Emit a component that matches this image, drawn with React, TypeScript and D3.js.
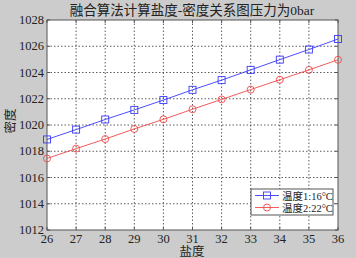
import React from "react";
import * as d3 from "d3";

const salinity = [26, 27, 28, 29, 30, 31, 32, 33, 34, 35, 36];
const density16 = [1018.9, 1019.65, 1020.42, 1021.15, 1021.9, 1022.68, 1023.42, 1024.2, 1024.98, 1025.75, 1026.55];
const density22 = [1017.45, 1018.2, 1018.93, 1019.7, 1020.43, 1021.2, 1021.95, 1022.7, 1023.45, 1024.2, 1024.97];
const yTicks = [1012, 1014, 1016, 1018, 1020, 1022, 1024, 1026, 1028];
const xTicks = [26, 27, 28, 29, 30, 31, 32, 33, 34, 35, 36];
const seriesNames = ["温度1:16°C", "温度2:22°C"];
const title = "融合算法计算盐度-密度关系图压力为0bar";

const W = 356, H = 258;
const L = 47, R = 338, T = 20, B = 230;
const FONT = "'Liberation Serif', 'Noto Sans CJK SC', serif";

export default function App() {
  const x = d3.scaleLinear().domain([26, 36]).range([L, R]);
  const y = d3.scaleLinear().domain([1012, 1028]).range([B, T]);
  const line = d3.line<number>().x((_, i) => x(salinity[i])).y((d) => y(d));
  const blue = "#3a3aff";
  const red = "#f04a4a";
  return (
    <svg width={W} height={H} style={{ position: "absolute", left: 0, top: 0 }} fontFamily={FONT}>
      <rect x={0} y={0} width={W} height={H} fill="#cccccc" />
      <rect x={L} y={T} width={R - L} height={B - T} fill="#ffffff" />
      {xTicks.slice(1, -1).map((t) => (
        <line key={"gx" + t} x1={x(t)} x2={x(t)} y1={T} y2={B} stroke="#333" strokeWidth={0.8} strokeDasharray="1.5,2" />
      ))}
      {yTicks.slice(1, -1).map((t) => (
        <line key={"gy" + t} x1={L} x2={R} y1={y(t)} y2={y(t)} stroke="#333" strokeWidth={0.8} strokeDasharray="1.5,2" />
      ))}
      {xTicks.map((t) => (
        <g key={"tx" + t}>
          <line x1={x(t)} x2={x(t)} y1={B} y2={B - 3} stroke="#555" />
          <line x1={x(t)} x2={x(t)} y1={T} y2={T + 3} stroke="#555" />
          <text x={x(t)} y={B + 13} fontSize={12.5} textAnchor="middle" fill="#222">{t}</text>
        </g>
      ))}
      {yTicks.map((t) => (
        <g key={"ty" + t}>
          <line x1={L} x2={L + 3} y1={y(t)} y2={y(t)} stroke="#555" />
          <line x1={R} x2={R - 3} y1={y(t)} y2={y(t)} stroke="#555" />
          <text x={L - 3} y={y(t) + 4} fontSize={12.5} textAnchor="end" fill="#222">{t}</text>
        </g>
      ))}
      <rect x={L} y={T} width={R - L} height={B - T} fill="none" stroke="#555" strokeWidth={1} />
      <path d={line(density16) || ""} fill="none" stroke={blue} strokeWidth={0.9} />
      <path d={line(density22) || ""} fill="none" stroke={red} strokeWidth={0.9} />
      {density16.map((d, i) => (
        <rect key={"b" + i} x={x(salinity[i]) - 3.5} y={y(d) - 3.5} width={7} height={7} fill="none" stroke={blue} strokeWidth={0.9} />
      ))}
      {density22.map((d, i) => (
        <circle key={"r" + i} cx={x(salinity[i])} cy={y(d)} r={3.5} fill="none" stroke={red} strokeWidth={0.9} />
      ))}
      <text x={192} y={15} fontSize={13.5} textAnchor="middle" fill="#222">{title}</text>
      <text x={192} y={256} fontSize={12.5} textAnchor="middle" fill="#222">盐度</text>
      <text transform={`translate(15,121) rotate(-90)`} fontSize={12.5} textAnchor="middle" fill="#222">密度</text>
      <g>
        <rect x={251} y={189} width={82} height={26} fill="#ffffff" stroke="#555" strokeWidth={1} />
        <line x1={255} x2={279} y1={195.5} y2={195.5} stroke={blue} strokeWidth={0.9} />
        <rect x={263.5} y={192} width={7} height={7} fill="none" stroke={blue} strokeWidth={0.9} />
        <text x={282} y={199.5} fontSize={10.5} fill="#222">{seriesNames[0]}</text>
        <line x1={255} x2={279} y1={207.5} y2={207.5} stroke={red} strokeWidth={0.9} />
        <circle cx={267} cy={207.5} r={3.5} fill="none" stroke={red} strokeWidth={0.9} />
        <text x={282} y={211.5} fontSize={10.5} fill="#222">{seriesNames[1]}</text>
      </g>
    </svg>
  );
}
